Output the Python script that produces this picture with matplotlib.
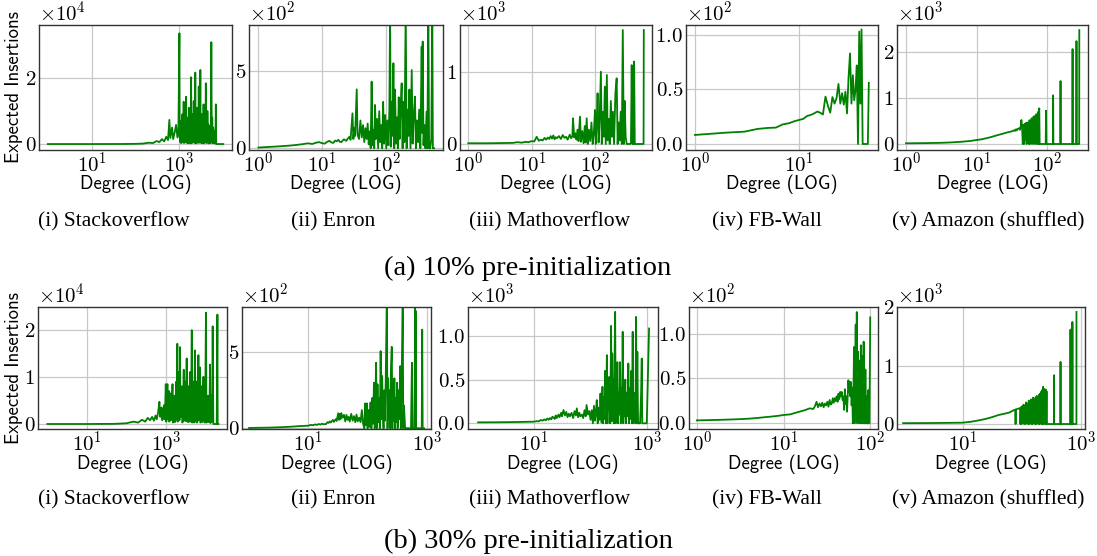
import matplotlib
matplotlib.use('Agg')
import matplotlib.pyplot as plt

plt.rcParams['font.family'] = 'cmr10'
plt.rcParams['mathtext.fontset'] = 'cm'
plt.rcParams['axes.formatter.use_mathtext'] = True

# ---- data (degree, expected insertions) ----
# (a) 10% pre-initialization
deg_so_10 = [1, 10, 50, 100, 150, 200, 250, 300, 350, 400,
             450, 500, 550, 590, 620, 680, 720, 780, 840, 900,
             950,
             1000, 1015, 1030, 1050, 1065, 1080, 1100, 1120, 1140, 1170,
             1190, 1210, 1230, 1250, 1275, 1300, 1325, 1350, 1385, 1420,
             1445, 1470, 1495, 1520, 1550, 1580, 1610, 1640, 1670, 1700,
             1740, 1780, 1815, 1850, 1875, 1900, 1940, 1980, 2015, 2050,
             2085, 2120, 2160, 2200, 2250, 2300, 2340, 2380, 2415, 2450,
             2490, 2530, 2565, 2600, 2640, 2680, 2720, 2760, 2800, 2850,
             2920, 3000, 3050, 3100, 3170, 3250, 3320, 3400, 3470, 3550,
             3620, 3700, 3770, 3850, 3920, 4000, 4070, 4150, 4250, 4350,
             4450, 4550, 4670, 4800, 4920, 5050, 5200, 5340, 5470, 5600,
             5750, 5900, 6050, 6200, 6350, 6500, 6630, 6760, 6900,
             10000]
ins_so_10 = [0, 0, 20, 60, 150, 400, 300, 900, 600, 1500,
             800, 2200, 1200, 7300, 1800, 5000, 1500, 3500, 5800, 2000,
             4500,
             33500, 2000, 6000, 500, 5000, 7000, 300, 4000, 800, 9000,
             500, 6000, 1000, 12800, 300, 5000, 700, 8000, 2500, 14300,
             400, 6000, 1500, 8000, 200, 5500, 1000, 11000, 300, 7000,
             600, 7000, 200, 20200, 1000, 5000, 300, 9000, 2000, 6000,
             500, 13000, 800, 5000, 300, 21600, 1500, 7000, 200, 6000,
             300, 11000, 800, 7000, 2000, 5500, 400, 17400, 600, 8000,
             400, 22400, 1000, 6000, 300, 9000, 400, 7000, 200, 12000,
             1200, 7000, 300, 6000, 800, 18400, 500, 5000, 300, 10000,
             800, 6000, 200, 5500, 400, 4000, 300, 30800, 1000, 8000,
             300, 5000, 200, 4000, 300, 3000, 200, 12000, 0,
             0]

deg_en_10 = [1, 2, 3, 4, 5, 6, 7, 8, 9, 10,
             11, 12, 13, 14, 15, 16, 17, 18, 19, 20,
             22, 24, 25, 27, 28, 30, 31, 32, 33, 35,
             36, 38, 40, 42, 44, 46, 48, 50, 52, 54,
             56, 58, 60, 62, 64, 66, 68, 70, 73, 76,
             79, 82, 85, 88, 91, 94, 98, 102, 106, 110,
             114, 117, 120, 124, 128, 132, 136, 140, 145, 150,
             155, 160, 165, 171, 178, 184, 190, 197, 206, 213,
             220, 228, 235, 245, 256, 265, 275, 288, 298, 310,
             322, 335, 350, 367, 375, 381, 392, 405, 420, 438,
             450, 467, 480, 500, 520, 539, 550, 575]
ins_en_10 = [5, 12, 17, 22, 27, 32, 28, 36, 40, 33,
             30, 42, 48, 38, 35, 50, 45, 55, 42, 40,
             58, 48, 60, 75, 55, 226, 60, 130, 80, 381,
             90, 60, 180, 70, 150, 40, 130, 60, 160, 25,
             110, 0, 431, 20, 120, 0, 280, 60, 190, 0,
             240, 40, 150, 0, 300, 30, 215, 0, 180, 20,
             250, 900, 10, 300, 80, 550, 0, 380, 30, 200,
             0, 330, 60, 260, 420, 0, 300, 40, 900, 0,
             250, 80, 380, 0, 506, 30, 200, 334, 0, 180,
             40, 250, 0, 657, 100, 690, 20, 150, 0, 237,
             0, 900, 0, 0, 60, 900, 0, 0]

deg_mo_10 = [1, 2, 3, 4, 5, 6, 7, 8, 9, 10,
             11, 12, 13, 14, 15, 16, 17, 18, 19, 20,
             21, 22, 23, 24, 25, 27, 29, 31, 33, 35,
             37, 40, 42, 44, 45, 47, 49, 51, 53, 55,
             58, 60, 63, 66, 69, 71, 74, 77, 80, 84,
             88, 92, 96, 100, 103, 106, 110, 114, 118, 124,
             128, 133, 138, 143, 148, 154, 159, 165, 171, 178,
             185, 192, 200, 210, 220, 228, 236, 245, 255, 265,
             275, 285, 295, 305, 317, 330, 345, 360, 370, 380,
             390, 398, 405, 415, 425, 500, 585, 590]
ins_mo_10 = [10, 10, 12, 14, 15, 25, 18, 30, 25, 40,
             35, 100, 45, 60, 50, 85, 60, 90, 70, 110,
             75, 120, 65, 95, 80, 110, 70, 125, 85, 100,
             60, 130, 80, 110, 358, 90, 150, 60, 200, 40,
             381, 30, 180, 10, 250, 20, 358, 0, 200, 40,
             300, 0, 150, 474, 0, 250, 707, 20, 300, 1009,
             0, 450, 100, 800, 0, 963, 50, 350, 0, 600,
             100, 450, 0, 700, 916, 0, 300, 50, 450, 0,
             1590, 0, 600, 100, 0, 0, 0, 0, 20, 1100,
             0, 300, 0, 1150, 0, 0, 0, 1590]

deg_fb_10 = [1, 2, 3, 4, 5, 6, 7, 8, 9, 10,
             11, 12, 13, 14, 15, 16, 17, 18, 19, 20,
             21, 22, 23, 24, 25, 26, 27, 28, 29, 30,
             31, 32, 33, 34, 35, 36, 37, 38, 39, 40,
             41, 42, 43, 44, 45, 46, 47]
ins_fb_10 = [8.3, 10.4, 11.3, 13.8, 14.7, 15.0, 18.0, 19.0, 20.8, 22.0,
             23.0, 25.7, 26.6, 28.0, 29.7, 28.7, 27.0, 43.4, 35.0, 28.7,
             43.0, 37.0, 42.0, 55.0, 37.0, 46.5, 36.0, 48.0, 28.0, 61.0,
             83.0, 37.0, 63.0, 40.0, 49.5, 72.0, 0.0, 103.0, 37.0, 105.0,
             0.0, 0.0, 0.0, 0.0, 0.0, 0.0, 56.0]

deg_am_10 = [1, 2, 3, 4, 5, 6, 8, 10, 12, 15,
             18, 20, 23, 26, 28, 30, 32, 34, 35, 36,
             37, 38, 40, 41, 42, 43, 44, 45, 46, 47,
             48, 49, 50, 51, 52, 53, 54, 55, 56, 57,
             58, 59, 60, 61, 62, 63, 64, 65, 66, 67,
             68, 69, 70, 71, 72, 73, 74, 75, 76, 77,
             78, 95, 96, 97, 120, 121, 122, 153, 154, 155,
             227, 228, 229, 258, 259, 260, 283, 284]
ins_am_10 = [15, 20, 25, 32, 40, 48, 65, 87, 105, 140,
             175, 196, 220, 245, 258, 269, 280, 300, 285, 320,
             295, 330, 342, 310, 380, 524, 350, 0, 420, 0,
             440, 100, 460, 0, 470, 50, 430, 0, 520, 0,
             480, 80, 560, 0, 540, 20, 600, 0, 560, 100,
             620, 0, 650, 30, 600, 0, 700, 0, 680, 778,
             0, 0, 727, 0, 0, 1062, 0, 0, 1375, 0,
             0, 2073, 0, 0, 2247, 0, 0, 2487]

# (b) 30% pre-initialization
deg_so_30 = [1, 10, 50, 100, 151, 200, 250, 300, 350, 400,
             450, 500, 550, 590, 640,
             690, 720, 750, 780, 810, 840, 870, 900, 930, 960,
             1000, 1030, 1060, 1100, 1130, 1160, 1200, 1230, 1260, 1300,
             1350, 1400, 1440, 1480, 1520, 1560, 1600, 1650, 1700, 1750,
             1800, 1850, 1900, 1960, 2000, 2050, 2100, 2150, 2220, 2290,
             2340, 2400, 2470, 2550, 2620, 2700, 2770, 2850, 2920, 3000,
             3080, 3150, 3260, 3380, 3440, 3500, 3600, 3700, 3800, 3900,
             4000, 4100, 4200, 4300, 4420, 4550, 4650, 4750, 4850, 4950,
             5080, 5200, 5350, 5500, 5620, 5750, 5870, 6000, 6150, 6300,
             6500, 6700, 6850, 7000, 7180, 7370, 7530, 7700, 7850, 8000,
             8250, 8500, 8750, 9000, 9350, 9700, 10000, 10400, 10700, 11000,
             11350, 11700, 12000, 12400, 12800, 13200, 13500, 13800, 14100, 14500,
             14900, 15400, 16000, 19500, 20300, 20600, 21500]
ins_so_30 = [0, 0, 30, 150, 500, 300, 900, 500, 1300, 800,
             1500, 700, 1800, 1000, 2500,
             4700, 1500, 3000, 3500, 800, 1200, 3000, 4000, 1000, 3000,
             8450, 500, 5000, 8450, 1000, 6000, 7000, 500, 4000, 6500,
             800, 1500, 5000, 8450, 300, 3000, 5000, 6000, 400, 500,
             6000, 9000, 1000, 17000, 500, 2000, 6000, 11000, 800, 16300,
             3000, 1500, 5000, 8000, 300, 500, 6000, 11500, 700, 2500,
             5000, 9000, 600, 13900, 2000, 500, 7000, 8000, 400, 2000,
             6000, 11000, 800, 500, 7000, 19900, 300, 1500, 6000, 9000,
             700, 300, 8000, 15600, 500, 2000, 7000, 9000, 300, 400,
             6000, 14600, 800, 2000, 5000, 12000, 300, 500, 6000, 8000,
             400, 1500, 7000, 10000, 500, 300, 5000, 23600, 300, 1000,
             5000, 6000, 400, 500, 4000, 12600, 200, 300, 3000, 6000,
             500, 20700, 0, 0, 23200, 0, 0]

deg_en_30 = [1, 2, 3, 4, 5, 6, 7, 8, 9, 10,
             11, 12, 13, 14, 15, 16, 17, 18, 20, 21,
             22, 23, 24, 26, 27, 29, 30, 32, 33, 34,
             35, 36, 38, 40, 42, 44, 46, 48, 50, 53,
             56, 59, 62, 65, 68, 72, 76, 80, 84, 88,
             91, 94, 97, 100, 104, 108, 112, 116, 120, 124,
             128, 132, 135, 139, 143, 147, 151, 156, 161, 166,
             171, 176, 181, 186, 191, 196, 202, 211, 217, 222,
             228, 235, 241, 248, 256, 262, 268, 275, 283, 290,
             298, 306, 314, 322, 330, 340, 355, 365, 375, 392,
             400, 410, 420, 430, 540, 560, 575, 620, 634, 640,
             645, 655, 820, 835, 850, 896]
ins_en_30 = [2, 4, 6, 8, 10, 12, 14, 15, 16, 17,
             22, 20, 25, 22, 28, 24, 30, 26, 28, 40,
             35, 45, 38, 55, 42, 60, 48, 99, 55, 95,
             60, 100, 70, 88, 45, 88, 55, 75, 44, 95,
             50, 80, 40, 90, 45, 70, 40, 120, 30, 0,
             164, 20, 164, 0, 120, 10, 170, 0, 200, 30,
             300, 0, 150, 432, 0, 290, 40, 200, 0, 509,
             60, 345, 100, 0, 250, 50, 300, 850, 0, 330,
             60, 250, 0, 400, 537, 0, 300, 50, 330, 0,
             200, 40, 300, 0, 250, 60, 410, 0, 300, 850,
             0, 150, 77, 0, 0, 432, 0, 0, 850, 0,
             775, 0, 0, 651, 0, 0]

deg_mo_30 = [1, 2, 3, 4, 5, 6, 7, 8, 9, 10,
             11, 12, 13, 14, 15, 16, 17, 18, 19, 20,
             21, 22, 23, 24, 25, 27, 28, 30, 31, 33,
             35, 37, 39, 41, 43, 46, 49, 52, 55, 57,
             60, 63, 66, 70, 74, 78, 82, 85, 90, 95,
             100, 105, 110, 115, 120, 124, 129, 134, 139, 145,
             150, 156, 163, 167, 172, 177, 182, 187, 191, 195,
             200, 205, 210, 216, 222, 227, 232, 237, 243, 248,
             254, 260, 267, 274, 280, 286, 293, 300, 308, 316,
             325, 335, 345, 355, 365, 373, 382, 392, 402, 415,
             425, 440, 455, 470, 485, 500, 515, 530, 545, 562,
             575, 590, 605, 617, 630, 645, 660, 680, 700, 727,
             760, 790, 815, 830, 895, 1000, 1100]
ins_mo_30 = [11, 12, 13, 14, 15, 16, 17, 18, 18, 19,
             25, 22, 38, 30, 45, 35, 55, 40, 60, 45,
             76, 65, 50, 90, 60, 100, 70, 120, 80, 152,
             90, 130, 70, 110, 80, 120, 60, 140, 90, 171,
             70, 120, 80, 100, 60, 150, 80, 209, 100, 140,
             40, 150, 0, 200, 30, 120, 266, 0, 180, 40,
             340, 10, 418, 0, 300, 50, 600, 0, 350, 780,
             0, 500, 150, 532, 0, 400, 1114, 20, 800, 100,
             500, 0, 700, 1274, 0, 500, 200, 700, 0, 350,
             100, 700, 0, 400, 50, 1046, 0, 300, 80, 500,
             0, 350, 80, 684, 0, 400, 50, 600, 0, 1046,
             0, 350, 100, 114, 0, 1217, 0, 817, 0, 0,
             0, 300, 741, 0, 0, 0, 1084]

deg_fb_30 = [1, 2, 3, 4, 5, 6, 7, 8, 9, 10,
             12, 14, 16, 18, 20, 22, 23, 24, 25, 26,
             27, 28, 29, 30, 31, 32, 33, 34, 35, 36,
             37, 38, 39, 40, 41, 42, 43, 44, 45, 46,
             47, 48, 49, 50, 51, 52, 53, 54, 55, 56,
             57, 58, 59, 60, 61, 62, 63, 64, 65, 66,
             67, 68, 69, 70, 71, 72, 73, 74, 75, 76,
             77, 78, 79, 80, 81, 82, 83, 84, 85, 86,
             87, 88, 89, 90, 92, 94, 95, 96, 98, 100]
ins_fb_30 = [3.3, 4.0, 4.6, 5.2, 6.0, 6.8, 7.4, 8.0, 8.6, 9.3,
             10.0, 12.0, 13.5, 15.0, 16.7, 16.0, 19.0, 24.0, 18.0, 22.0,
             19.0, 23.0, 18.0, 22.0, 20.0, 24.0, 18.5, 26.0, 21.0, 22.0,
             28.0, 23.0, 28.0, 25.0, 30.0, 24.0, 33.0, 27.0, 35.0, 30.0,
             35.0, 26.0, 30.0, 15.0, 38.0, 22.0, 30.0, 13.0, 30.0, 48.0,
             35.0, 46.0, 30.0, 46.0, 20.0, 40.0, 0.0, 30.0, 85.0, 0.0,
             60.0, 110.0, 40.0, 124.0, 0.0, 80.0, 20.0, 63.0, 0.0, 70.0,
             10.0, 87.0, 0.0, 50.0, 0.0, 75.0, 20.0, 91.0, 0.0, 40.0,
             0.0, 60.0, 0.0, 30.0, 0.0, 0.0, 37.0, 0.0, 0.0, 118.0]

deg_am_30 = [1, 2, 3, 5, 7, 10, 13, 16, 20, 25,
             30, 35, 40, 45, 50, 55, 60, 65, 70, 74,
             77, 78, 79, 82, 86, 90, 93, 94, 96, 98,
             100, 103, 106, 109, 112, 115, 118, 121, 124, 127,
             130, 133, 136, 139, 142, 145, 148, 151, 154, 158,
             162, 166, 170, 174, 178, 182, 186, 190, 194, 198,
             202, 206, 210, 214, 218, 222, 227, 231, 235, 239,
             243, 247, 251, 255, 259, 262, 346, 347, 348, 444,
             445, 446, 653, 654, 655, 704, 705, 706, 824, 825]
ins_am_30 = [15, 16, 17, 19, 21, 23, 35, 50, 68, 90,
             112, 133, 153, 165, 175, 185, 193, 210, 227, 240,
             245, 0, 250, 255, 262, 268, 272, 0, 290, 0,
             300, 20, 330, 0, 320, 0, 370, 50, 340, 0,
             400, 0, 380, 100, 420, 0, 400, 0, 450, 50,
             420, 0, 460, 0, 480, 100, 450, 0, 500, 0,
             520, 150, 550, 0, 580, 0, 636, 0, 600, 100,
             570, 0, 590, 0, 560, 0, 0, 835, 0, 0,
             1062, 0, 0, 1614, 0, 0, 1744, 0, 0, 1915]

titles = ['(i) Stackoverflow', '(ii) Enron', '(iii) Mathoverflow',
          '(iv) FB-Wall', '(v) Amazon (shuffled)']
row_titles = ['(a) 10% pre-initialization', '(b) 30% pre-initialization']

# ---- layout (pixels of the 1097x556 canvas) ----
W, H = 1097.0, 556.0
rows = [
    dict(top=25, bottom=150, cols=[(39, 232), (249, 443), (460, 652), (686, 878), (897, 1088)],
         cap_y=222, title_y=268, xlab_y=-0.2, ylab_x=-0.083,
         panels=[(deg_so_10, ins_so_10, (0.63, 15800), (-1800, 36000), [10, 1000], [0, 20000]),
                 (deg_en_10, ins_en_10, (0.71, 794), (-11, 797), [1, 10, 100], [0, 500]),
                 (deg_mo_10, ins_mo_10, (0.74, 795), (-84, 1660), [1, 10, 100], [0, 1000]),
                 (deg_fb_10, ins_fb_10, (0.82, 57.6), (-5.5, 109), [1, 10], [0, 50, 100]),
                 (deg_am_10, ins_am_10, (0.746, 377), (-131, 2598), [1, 10, 100], [0, 1000, 2000])]),
    dict(top=307, bottom=429, cols=[(38, 227), (242, 431), (468, 658), (689, 878), (897, 1085)],
         cap_y=500, title_y=541, xlab_y=-0.205, ylab_x=-0.079,
         panels=[(deg_so_30, ins_so_30, (0.58, 35500), (-1060, 24800), [10, 1000], [0, 10000, 20000]),
                 (deg_en_30, ins_en_30, (0.76, 1175), (-5, 800), [10, 1000], [0, 500]),
                 (deg_mo_30, ins_mo_30, (0.66, 1585), (-65, 1330), [10, 1000], [0, 500, 1000]),
                 (deg_fb_30, ins_fb_30, (0.81, 123), (-6.3, 129.6), [1, 10, 100], [0, 50, 100]),
                 (deg_am_30, ins_am_30, (0.79, 1148), (-85, 2000), [10, 1000], [0, 1000, 2000])]),
]
cap_x = [114, 333, 550, 767, 988]

fig = plt.figure(figsize=(10.97, 5.56), dpi=100)

for r, row in enumerate(rows):
    for c, (deg, ins, xlim, ylim, xt, yt) in enumerate(row['panels']):
        left, right = row['cols'][c]
        ax = fig.add_axes([left / W, 1 - row['bottom'] / H,
                           (right - left) / W, (row['bottom'] - row['top']) / H])
        ax.plot(deg, ins, color='green', lw=1.3)
        ax.set_xscale('log')
        ax.set_xlim(xlim)
        ax.set_ylim(ylim)
        ax.set_xticks(xt)
        ax.set_yticks(yt)
        ax.minorticks_off()
        ax.ticklabel_format(axis='y', style='sci', scilimits=(0, 0), useMathText=True)
        ax.yaxis.get_offset_text().set_fontsize(15)
        ax.tick_params(length=0, labelsize=15)
        ax.tick_params(axis='y', pad=2)
        ax.tick_params(axis='x', pad=1)
        ax.grid(True, color='#c8c8c8', lw=0.9)
        ax.set_axisbelow(True)
        for s in ax.spines.values():
            s.set_color('#333333')
            s.set_linewidth(1.0)
        ax.set_xlabel('Degree (LOG)', family='cmss10', fontsize=13.5)
        ax.xaxis.set_label_coords(0.5, row['xlab_y'])
        if c == 0:
            ax.set_ylabel('Expected Insertions', family='cmss10', fontsize=13.5)
            ax.yaxis.set_label_coords(row['ylab_x'], 0.5)
        fig.text(cap_x[c] / W, 1 - row['cap_y'] / H, titles[c], family='Liberation Serif',
                 fontsize=15.5, ha='center', va='center')
    fig.text(528 / W, 1 - row['title_y'] / H, row_titles[r], family='Liberation Serif',
             fontsize=20.5, ha='center', va='center')

fig.savefig('out.png', dpi=100)
